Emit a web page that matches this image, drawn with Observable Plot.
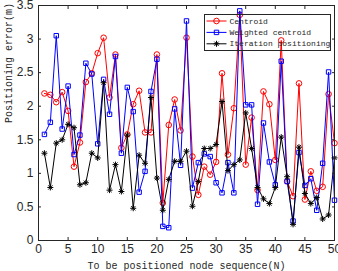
<!DOCTYPE html>
<html><head><meta charset="utf-8">
<script src="https://cdn.jsdelivr.net/npm/d3@7"></script>
<script src="https://cdn.jsdelivr.net/npm/@observablehq/plot@0.6"></script>
<style>body{margin:0;background:#fff} svg{display:block}</style>
</head><body><div id="chart"></div>
<script>
const nodes = [1,2,3,4,5,6,7,8,9,10,11,12,13,14,15,16,17,18,19,20,21,22,23,24,25,26,27,28,29,30,31,32,33,34,35,36,37,38,39,40,41,42,43,44,45,46,47,48,49,50];
const centroid = [2.19,2.17,2.06,2.21,1.93,1.10,1.46,2.36,2.49,2.79,3.02,2.13,2.77,1.38,1.58,2.03,2.23,1.61,1.61,2.77,0.56,1.72,2.10,1.64,3.02,1.25,0.68,1.10,0.98,1.17,2.49,1.28,1.97,3.36,1.13,1.83,0.75,2.22,2.03,1.20,2.98,0.88,0.66,2.34,0.61,1.03,0.74,0.80,2.18,1.45];
const weighted = [1.58,1.76,3.05,1.66,2.30,1.28,1.57,2.64,2.48,1.44,2.40,1.88,2.74,1.30,2.28,1.92,0.72,1.03,2.22,2.70,0.21,0.19,1.96,1.12,3.27,0.78,1.16,1.29,1.25,0.86,0.71,1.16,0.71,3.42,2.02,2.02,0.54,1.75,1.17,0.83,2.67,0.88,0.29,1.31,0.82,0.92,0.45,1.15,2.51,0.60];
const iteration = [1.30,0.79,1.45,1.50,1.73,1.68,0.83,0.86,1.30,1.23,2.35,0.75,1.13,0.73,1.57,0.48,1.27,1.15,2.13,0.93,0.45,0.91,1.18,1.18,1.33,0.51,0.88,1.37,1.37,1.43,2.07,1.04,1.13,1.20,1.90,1.37,0.79,0.62,0.55,0.79,1.54,0.95,0.24,1.39,0.70,0.55,0.64,0.32,0.38,1.23];
const seriesNames = ["Centroid","Weighted centroid","Iteration positioning"];
const seriesColors = ["#ff0000","#0000ff","#000000"];
const xTicks = [0,5,10,15,20,25,30,35,40,45,50];
const yTicks = [0,0.5,1,1.5,2,2.5,3,3.5];
const xLabel = "To be positioned node sequence(N)";
const yLabel = "Positioning error(m)";

const asterisk = {
  draw(ctx, size) {
    const r = Math.sqrt(size / Math.PI);
    const d = r * Math.SQRT1_2;
    ctx.moveTo(-r, 0); ctx.lineTo(r, 0);
    ctx.moveTo(0, -r); ctx.lineTo(0, r);
    ctx.moveTo(-d, -d); ctx.lineTo(d, d);
    ctx.moveTo(-d, d); ctx.lineTo(d, -d);
  }
};
const symbols = ["circle", "square", asterisk];
const radii = [2.8, 2.5, 3.0];

const allSeries = [centroid, weighted, iteration].map((vals, i) =>
  nodes.map((n, j) => ({series: seriesNames[i], x: n, y: vals[j]})));

const axisColor = "#262626";
const marks = [];
allSeries.forEach((data, i) => {
  marks.push(Plot.line(data, {x: "x", y: "y", stroke: seriesColors[i], strokeWidth: 1}));
  marks.push(Plot.dot(data, {x: "x", y: "y", symbol: () => symbols[i], r: radii[i], stroke: seriesColors[i], fill: "none", strokeWidth: 1}));
});

const chart = Plot.plot({
  width: 338, height: 271,
  marginLeft: 38, marginRight: 4, marginTop: 5, marginBottom: 31,
  style: {fontFamily: "'Liberation Sans', Arial, sans-serif", fontSize: "12px", color: axisColor, background: "#fff"},
  x: {domain: [0, 50]},
  y: {domain: [0, 3.5]},
  marks: [
    ...marks,
    Plot.frame({stroke: axisColor}),
    Plot.axisX(xTicks, {anchor: "bottom", tickSize: 0, tickPadding: 4, fontSize: 12, label: null, tickFormat: d => String(d)}),
    Plot.axisY(yTicks, {anchor: "left", tickSize: 0, tickPadding: 5, fontSize: 12, label: null, tickFormat: d => String(d)}),
    Plot.axisX(xTicks, {anchor: "bottom", tickSize: 3, dy: -3, tickFormat: () => "", label: null, stroke: axisColor}),
    Plot.axisX(xTicks, {anchor: "top", tickSize: 3, dy: 3, tickFormat: () => "", label: null, stroke: axisColor}),
    Plot.axisY(yTicks, {anchor: "left", tickSize: 3, dx: 3, tickFormat: () => "", label: null, stroke: axisColor}),
    Plot.axisY(yTicks, {anchor: "right", tickSize: 3, dx: -3, tickFormat: () => "", label: null, stroke: axisColor}),
    Plot.text([xLabel], {frameAnchor: "bottom", lineAnchor: "bottom", dy: 28, fontFamily: "'Liberation Mono', monospace", fontSize: 10, fill: axisColor}),
    Plot.text([yLabel], {frameAnchor: "left", dx: -30, rotate: -90, fontFamily: "'Liberation Mono', monospace", fontSize: 10, fill: axisColor})
  ]
});
document.getElementById("chart").appendChild(chart);

// legend inside the plot area (top-right), transparent background
const svg = d3.select(chart);
const lg = svg.append("g").attr("transform", "translate(204.5,14.5)");
lg.append("rect").attr("width", 126).attr("height", 36).attr("fill", "none").attr("stroke", axisColor).attr("stroke-width", 1);
const symPaths = [d3.symbol(d3.symbolCircle, Math.PI * radii[0] ** 2)(), d3.symbol(d3.symbolSquare, Math.PI * radii[1] ** 2)(), d3.symbol(asterisk, Math.PI * radii[2] ** 2)()];
seriesNames.forEach((name, i) => {
  const y = 6.5 + i * 11.4;
  lg.append("line").attr("x1", 2).attr("x2", 22).attr("y1", y).attr("y2", y).attr("stroke", seriesColors[i]).attr("stroke-width", 1);
  lg.append("path").attr("d", symPaths[i]).attr("transform", `translate(12,${y})`).attr("fill", "none").attr("stroke", seriesColors[i]).attr("stroke-width", 1);
  lg.append("text").attr("x", 25).attr("y", y).attr("dy", "0.32em").attr("text-anchor", "start").attr("font-family", "'Liberation Mono', monospace").attr("font-size", 8).attr("fill", axisColor).text(name);
});
</script>
</body></html>
